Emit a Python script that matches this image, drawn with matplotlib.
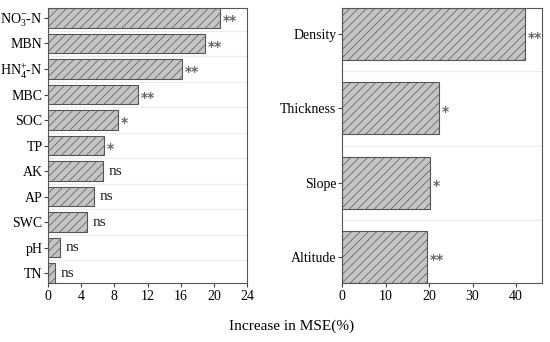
# Random forest importance (Increase in MSE) for soil and stand variables
import numpy as np
import matplotlib.pyplot as plt

plt.rcParams['font.family'] = ['Liberation Serif', 'DejaVu Serif']
plt.rcParams['mathtext.fontset'] = 'custom'
plt.rcParams['mathtext.rm'] = 'Liberation Serif'
plt.rcParams['mathtext.it'] = 'Liberation Serif'
plt.rcParams['hatch.linewidth'] = 0.5

# %%
# left panel: soil variables (top to bottom)
soil_vars = [r'NO$_3^{-}$-N', 'MBN', r'HN$_4^{+}$-N', 'MBC', 'SOC', 'TP',
             'AK', 'AP', 'SWC', 'pH', 'TN']
soil_mse = [20.8, 18.9, 16.1, 10.9, 8.5, 6.7, 6.6, 5.5, 4.7, 1.5, 0.9]
soil_sig = ['**', '**', '**', '**', '*', '*', 'ns', 'ns', 'ns', 'ns', 'ns']

# right panel: stand / site variables
site_vars = ['Density', 'Thickness', 'Slope', 'Altitude']
site_mse = [42.1, 22.2, 20.2, 19.6]
site_sig = ['**', '*', '*', '**']

fig = plt.figure(figsize=(5.5, 3.42), dpi=100)
ax1 = fig.add_axes([0.0873, 0.1725, 0.3618, 0.804])
ax2 = fig.add_axes([0.622, 0.1725, 0.3636, 0.804])


def draw_panel(ax, names, vals, sigs, h, xmax, xticks):
    n = len(names)
    y = np.arange(n)[::-1]
    # faint separators between categories
    for k in range(n - 1):
        ax.axhline(k + 0.5, color='#ececec', lw=0.8, zorder=0)
    ax.barh(y, vals, height=h, color='#c4c4c4', edgecolor='#555555',
            hatch='////', linewidth=0.8, zorder=2)
    for yi, v, s in zip(y, vals, sigs):
        if s == 'ns':
            ax.annotate(s, (v, yi), xytext=(4, 0), textcoords='offset points',
                        va='center', ha='left', fontsize=11, color='#222222')
        else:
            # sans asterisks, like the original
            ax.annotate(s, (v, yi), xytext=(2, -2.5), textcoords='offset points',
                        va='center', ha='left', fontsize=10, color='#666666',
                        family='DejaVu Sans', fontweight='bold')
    ax.set_yticks(y)
    ax.set_yticklabels(names)
    ax.set_ylim(-h / 2, n - 1 + h / 2)
    ax.set_xlim(0, xmax)
    ax.set_xticks(xticks)
    ax.tick_params(axis='both', labelsize=10, length=3, width=0.8,
                   color='#444444', pad=1)
    ax.tick_params(axis='x', pad=2)
    for sp in ax.spines.values():
        sp.set_color('#555555')
        sp.set_linewidth(0.8)


draw_panel(ax1, soil_vars, soil_mse, soil_sig, 0.78, 24,
           [0, 4, 8, 12, 16, 20, 24])
draw_panel(ax2, site_vars, site_mse, site_sig, 0.70, 46,
           [0, 10, 20, 30, 40])

fig.text(0.53, 0.045, 'Increase in MSE(%)', ha='center', va='center',
         fontsize=11)

fig.savefig('out.png', dpi=100)
